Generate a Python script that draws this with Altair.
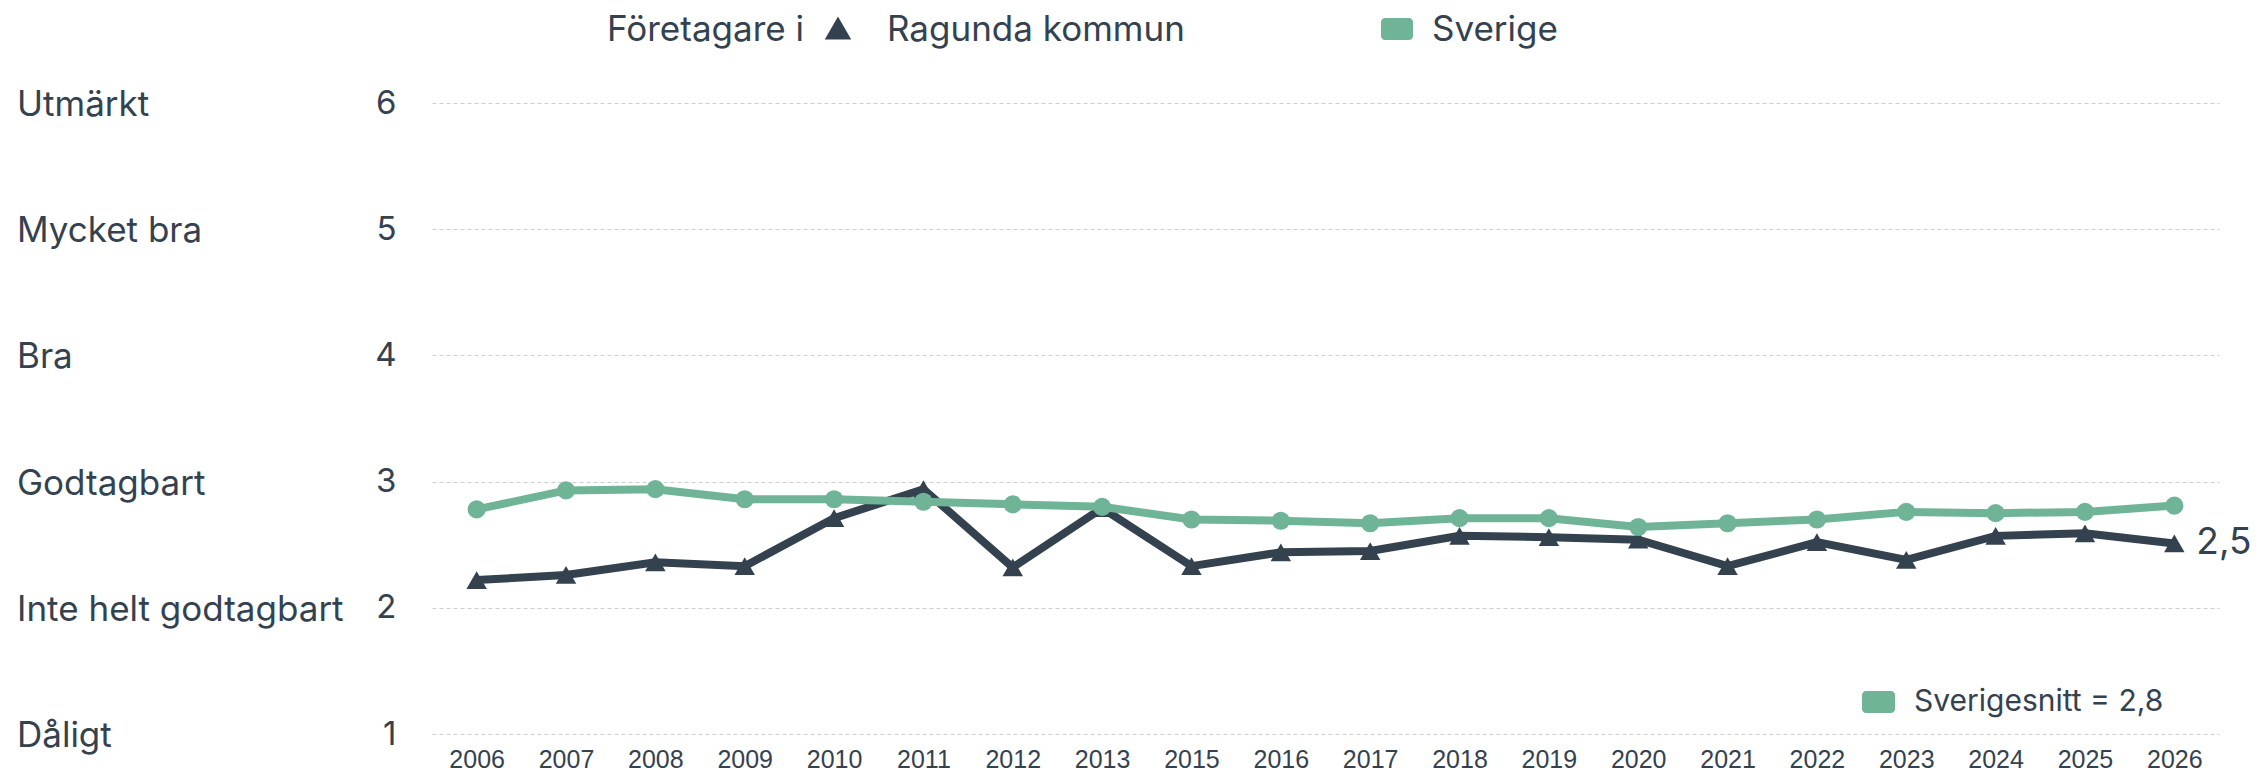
import altair as alt
import pandas as pd

years = ["2006", "2007", "2008", "2009", "2010", "2011", "2012", "2013", "2015", "2016",
         "2017", "2018", "2019", "2020", "2021", "2022", "2023", "2024", "2025", "2026"]
ragunda = [2.22, 2.26, 2.36, 2.33, 2.71, 2.94, 2.32, 2.79, 2.33, 2.44,
           2.45, 2.57, 2.56, 2.54, 2.33, 2.52, 2.38, 2.57, 2.59, 2.51]
sverige = [2.78, 2.93, 2.94, 2.86, 2.86, 2.84, 2.82, 2.80, 2.70, 2.69,
           2.67, 2.71, 2.71, 2.64, 2.67, 2.70, 2.76, 2.75, 2.76, 2.81]
grade_values = [1, 2, 3, 4, 5, 6]
grade_labels = ["Dåligt", "Inte helt godtagbart", "Godtagbart", "Bra", "Mycket bra", "Utmärkt"]
series_names = ["Ragunda kommun", "Sverige"]
sverige_avg = 2.8

DARK = "#34424f"
GREEN = "#70b498"
TEXT = "#34424f"
FONT = "Inter"

W, H = 1787, 631

df = pd.DataFrame({
    "year": years * 2,
    "v": ragunda + sverige,
    "s": [series_names[0]] * len(years) + [series_names[1]] * len(years),
})
rag_df = df[df.s == series_names[0]]
sve_df = df[df.s == series_names[1]]

xscale = alt.Scale(type="point", padding=0.5)
yscale = alt.Scale(domain=[1, 6], nice=False, zero=False)
xaxis = alt.Axis(title=None, labelAngle=0, domain=False, ticks=False, grid=False,
                 labelFontSize=25, labelColor=TEXT, labelFont="Liberation Sans",
                 labelPadding=13)
yaxis = alt.Axis(title=None, values=grade_values, format="d", domain=False, ticks=False,
                 labelFontSize=33, labelColor=TEXT, labelFont=FONT, labelPadding=36,
                 grid=True, gridColor="#cdcdcd", gridDash=[4, 3], gridWidth=1.2)
xenc = alt.X("year:O", sort=years, scale=xscale, axis=xaxis)
yenc = alt.Y("v:Q", scale=yscale, axis=yaxis)

rag_line = alt.Chart(rag_df).mark_line(color=DARK, strokeWidth=8).encode(x=xenc, y=yenc)
rag_pts = alt.Chart(rag_df).mark_point(shape="triangle-up", filled=True, color=DARK, size=420, opacity=1).encode(x=xenc, y=yenc)
sve_line = alt.Chart(sve_df).mark_line(color=GREEN, strokeWidth=8).encode(x=xenc, y=yenc)
sve_pts = alt.Chart(sve_df).mark_point(shape="circle", filled=True, color=GREEN, size=330, opacity=1).encode(x=xenc, y=yenc)

last_df = pd.DataFrame({"year": [years[-1]], "v": [ragunda[-1]],
                        "lab": [f"{ragunda[-1]:.1f}".replace(".", ",")]})
end_label = alt.Chart(last_df).mark_text(align="left", baseline="middle", dx=22, fontSize=37,
                                         font=FONT, color=TEXT).encode(
    x=xenc, y=yenc, text="lab:N")

cat_df = pd.DataFrame({"v": grade_values, "lab": grade_labels})
cat_text = alt.Chart(cat_df).mark_text(align="left", baseline="middle", dy=2, fontSize=35,
                                       font=FONT, color=TEXT).encode(
    x=alt.value(-415), y=yenc, text="lab:N")

# top legend
def txt(s, x, y, size=35):
    return alt.Chart(pd.DataFrame({"t": [s]})).mark_text(
        align="left", baseline="middle", fontSize=size, font=FONT, color=TEXT
    ).encode(x=alt.value(x), y=alt.value(y), text="t:N")

leg_y = -73
leg1 = txt("Företagare i", 175, leg_y)
leg_tri = alt.Chart(pd.DataFrame({"a": [0]})).mark_point(
    shape="triangle-up", filled=True, color=DARK, size=700, opacity=1
).encode(x=alt.value(406), y=alt.value(leg_y - 2))
leg2 = txt(series_names[0], 455, leg_y)
leg_sq = alt.Chart(pd.DataFrame({"a": [0]})).mark_rect(color=GREEN, cornerRadius=4).encode(
    x=alt.value(949), x2=alt.value(981), y=alt.value(leg_y - 12), y2=alt.value(leg_y + 10))
leg3 = txt(series_names[1], 1000, leg_y)

# bottom-right legend
avg_y = 599
avg_sq = alt.Chart(pd.DataFrame({"a": [0]})).mark_rect(color=GREEN, cornerRadius=4).encode(
    x=alt.value(1430), x2=alt.value(1463), y=alt.value(avg_y - 11), y2=alt.value(avg_y + 11))
avg_txt = txt(f"Sverigesnitt = {sverige_avg:.1f}".replace(".", ","), 1482, avg_y, 30)

chart = alt.layer(
    rag_line, rag_pts, sve_line, sve_pts, end_label, cat_text,
    leg1, leg_tri, leg2, leg_sq, leg3, avg_sq, avg_txt
).properties(
    width=W, height=H,
    autosize=alt.AutoSizeParams(type="none"),
    padding={"left": 424, "top": 95, "right": 38, "bottom": 37},
).configure(font=FONT).configure_view(strokeWidth=0, stroke="transparent")

chart.save("out.html", embed_options={"renderer": "svg", "actions": False})
